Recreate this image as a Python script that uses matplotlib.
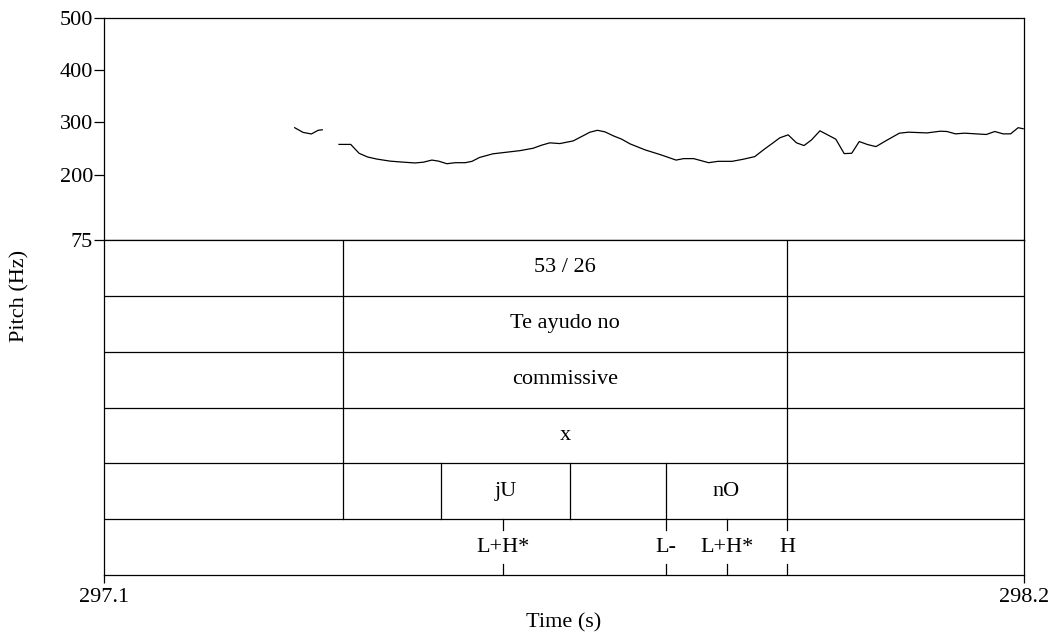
import matplotlib
matplotlib.use("Agg")
from matplotlib import pyplot as plt

plt.rcParams['font.family'] = ['Liberation Serif', 'DejaVu Serif']

# pitch track (two voiced stretches)
t1 = [297.328, 297.338, 297.348, 297.356, 297.361]
f1 = [290, 281, 278, 285, 286]
t2 = [297.381, 297.395, 297.405, 297.415, 297.426, 297.442, 297.458, 297.472,
      297.482, 297.492, 297.500, 297.510, 297.520, 297.532, 297.540, 297.549,
      297.565, 297.581, 297.597, 297.613, 297.623, 297.633, 297.645, 297.661,
      297.671, 297.681, 297.690, 297.699, 297.709, 297.719, 297.729, 297.747,
      297.765, 297.784, 297.793, 297.805, 297.823, 297.834, 297.851, 297.864,
      297.878, 297.890, 297.900, 297.908, 297.918, 297.928, 297.937, 297.946,
      297.956, 297.966, 297.975, 297.985, 297.994, 298.003, 298.013, 298.023,
      298.036, 298.051, 298.062, 298.084, 298.100, 298.108, 298.118, 298.129,
      298.155, 298.165, 298.175, 298.184, 298.193, 298.199]
f2 = [258, 258, 241, 234, 230, 226, 224, 222.5,
      224, 228, 226, 221, 223, 223, 225.6, 233,
      240, 243, 246, 250.6, 256.4, 261, 259.6, 264.7,
      273, 281.4, 285, 282, 274.4, 268, 259, 247.5,
      238.5, 228, 230.8, 230.8, 223, 225.6, 225.6, 229.5,
      234.6, 249.4, 261, 270.6, 276.3, 261, 255.8, 266.7,
      284, 275.6, 268, 240.4, 241, 263.5, 257.7, 253.8,
      266, 279.5, 281.4, 280, 283.3, 282.7, 278.2, 279.5,
      277, 282.7, 278.2, 278.2, 290, 288]

t_start, t_end = 297.1, 298.2
pitch_ticks = [75, 200, 300, 400, 500]

# interval tiers: (boundaries, labels)
outer_bounds = [297.3858, 297.9166]
tier_bounds = [outer_bounds, outer_bounds, outer_bounds, outer_bounds,
               [297.3858, 297.5029, 297.6572, 297.772, 297.9166]]
tier_labels = [["", "53 / 26", ""],
               ["", "Te ayudo no", ""],
               ["", "commissive", ""],
               ["", "x", ""],
               ["", "", "jU", "", "nO", ""]]
# point tier
point_times = [297.577, 297.772, 297.845, 297.9166]
point_labels = ["L+H*", "L-", "L+H*", "H"]

W, H = 1055, 639
fig = plt.figure(figsize=(W / 100, H / 100), dpi=100)
x0, x1 = 104 / W, 1024 / W
y_top, y_mid, y_bot = 1 - 18 / H, 1 - 240 / H, 1 - 575 / H

fs = 16
lw = 0.9

ax_p = fig.add_axes([x0, y_mid, x1 - x0, y_top - y_mid])
ax_t = fig.add_axes([x0, y_bot, x1 - x0, y_mid - y_bot])

# pitch panel
ax_p.plot(t1, f1, color='black', lw=lw)
ax_p.plot(t2, f2, color='black', lw=lw)
ax_p.set_xlim(t_start, t_end)
ax_p.set_ylim(75, 500)
ax_p.set_yticks(pitch_ticks)
ax_p.set_yticklabels([str(v) for v in pitch_ticks], fontsize=fs)
ax_p.set_xticks([])
ax_p.tick_params(axis='y', length=7, width=lw, pad=1)
for s in ax_p.spines.values():
    s.set_linewidth(lw)

# tiers panel
n_tiers = len(tier_bounds) + 1
ax_t.set_xlim(t_start, t_end)
ax_t.set_ylim(n_tiers, 0)
for s in ax_t.spines.values():
    s.set_linewidth(lw)
ax_t.set_yticks([])
ax_t.set_xticks([t_start, t_end])
ax_t.set_xticklabels([f"{t_start:.1f}", f"{t_end:.1f}"], fontsize=fs)
ax_t.tick_params(axis='x', length=6, width=lw, pad=3)

for i in range(1, n_tiers):
    ax_t.axhline(i, color='black', lw=lw)

for i, (bounds, labels) in enumerate(zip(tier_bounds, tier_labels)):
    edges = [t_start] + bounds + [t_end]
    for b in bounds:
        ax_t.plot([b, b], [i, i + 1], color='black', lw=lw)
    for k, lab in enumerate(labels):
        if lab:
            ax_t.text((edges[k] + edges[k + 1]) / 2, i + 0.5, lab,
                      ha='center', va='center', fontsize=fs)

row = n_tiers - 1
for t, lab in zip(point_times, point_labels):
    ax_t.plot([t, t], [row, row + 0.2], color='black', lw=lw)
    ax_t.plot([t, t], [row + 0.8, row + 1], color='black', lw=lw)
    ax_t.text(t, row + 0.5, lab, ha='center', va='center', fontsize=fs)

fig.text(20 / W, 1 - 296 / H, "Pitch (Hz)", rotation=90, ha='center',
         va='center', fontsize=fs)
fig.text((x0 + x1) / 2, 1 - 623 / H, "Time (s)", ha='center', va='center',
         fontsize=fs)

fig.savefig("out.png", dpi=100)
